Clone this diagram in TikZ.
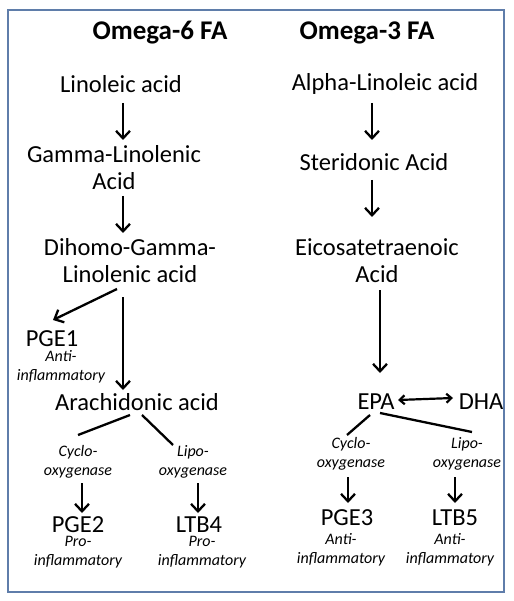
\documentclass[tikz,border=0pt]{standalone}
\usepackage{fontspec}
\setmainfont{Carlito}
\usepackage{tikz}
\usetikzlibrary{calc}
\usetikzlibrary{arrows.meta}
\def\thickness{2.3pt}
\definecolor{framecol}{RGB}{95,125,170}
\tikzset{
chem/.style={inner sep=0pt, align=center, font=\fontsize{24.5}{27}\selectfont},
heading/.style={inner sep=0pt, font=\fontsize{27}{30}\selectfont\bfseries},
enzyme/.style={inner sep=0pt, align=center, font=\fontsize{16}{18.5}\selectfont\itshape},
flow/.style={line width=\thickness, -{Straight Barb[length=7.5pt,width=14pt]}},
swap/.style={line width=2.2pt, {Straight Barb[length=5pt,width=9pt]}-{Straight Barb[length=5pt,width=9pt]}},
branch/.style={line width=\thickness},
}

\begin{document}
\begin{tikzpicture}[x=1pt, y=-1pt]
\useasboundingbox (0,0) rectangle (513,601);
\draw[framecol, line width=1.6pt] (8,10) rectangle (504,592);

\node[heading] (om6) at (160,33) {Omega-6 FA};
\node[heading] (om3) at (367,33) {Omega-3 FA};

% omega-6 side
\node[chem] (lin) at (121,84) {Linoleic acid};
\node[chem] (gla) at (114,168) {Gamma-Linolenic\\Acid};
\node[chem] (dgla) at (130,261) {Dihomo-Gamma-\\Linolenic acid};
\node[chem] (pge1) at (52,339) {PGE1};
\node[enzyme] (pge1n) at (61,367) {Anti-\\inflammatory};
\node[chem] (ara) at (137,402) {Arachidonic acid};
\node[enzyme] (cox6) at (78,462) {Cyclo-\\oxygenase};
\node[enzyme] (lox6) at (193,462) {Lipo-\\oxygenase};
\node[chem] (pge2) at (78,525) {PGE2};
\node[enzyme] (pge2n) at (78,552) {Pro-\\inflammatory};
\node[chem] (ltb4) at (199,525) {LTB4};
\node[enzyme] (ltb4n) at (202,552) {Pro-\\inflammatory};

% omega-3 side
\node[chem] (ala) at (385,84) {Alpha-Linoleic acid};
\node[chem] (sda) at (374,162) {Steridonic Acid};
\node[chem] (eta) at (377,261) {Eicosatetraenoic\\Acid};
\node[chem] (epa) at (376,402) {EPA};
\node[chem] (dha) at (481,402) {DHA};
\node[enzyme] (cox3) at (351,454) {Cyclo-\\oxygenase};
\node[enzyme] (lox3) at (467,454) {Lipo-\\oxygenase};
\node[chem] (pge3) at (347,518) {PGE3};
\node[chem] (ltb5) at (455,518) {LTB5};
\node[enzyme] (pge3n) at (341,550) {Anti-\\inflammatory};
\node[enzyme] (ltb5n) at (450,550) {Anti-\\inflammatory};

%
\draw[flow] ($(lin)+(2,19)$) -- ($(gla)+(9,-28)$);
\draw[flow] ($(gla)+(9,28)$) -- ($(dgla)+(-7,-28)$);
\draw[flow] ($(dgla)+(-7,36)$) -- ($(ara)+(-14,-12)$);
\draw[flow] ($(dgla)+(-13,28)$) -- ($(pge1)+(1,-19)$);
\draw[branch] ($(ara)+(-7,13)$) -- ($(cox6)+(0,-27)$);
\draw[branch] ($(ara)+(5,13)$) -- ($(lox6)+(-20,-17)$);
\draw[flow] ($(cox6)+(4,21)$) -- ($(pge2)+(4,-12)$);
\draw[flow] ($(lox6)+(5,21)$) -- ($(ltb4)+(-1,-12)$);

%
\draw[flow] ($(ala)+(-13,19)$) -- ($(sda)+(-2,-22)$);
\draw[flow] ($(sda)+(-2,18)$) -- ($(eta)+(-5,-44)$);
\draw[flow] ($(eta)+(3,29)$) -- ($(epa)+(4,-29)$);
\draw[swap] ($(epa)+(22,-2)$) -- ($(dha)+(-28,-4)$);
\draw[branch] ($(epa)+(-6,13)$) -- ($(cox3)+(-4,-19)$);
\draw[branch] ($(epa)+(4,11)$) -- ($(lox3)+(5,-22)$);
\draw[flow] ($(cox3)+(-3,23)$) -- ($(pge3)+(1,-15)$);
\draw[flow] ($(lox3)+(-12,23)$) -- ($(ltb5)+(0,-15)$);
\end{tikzpicture}
\end{document}
